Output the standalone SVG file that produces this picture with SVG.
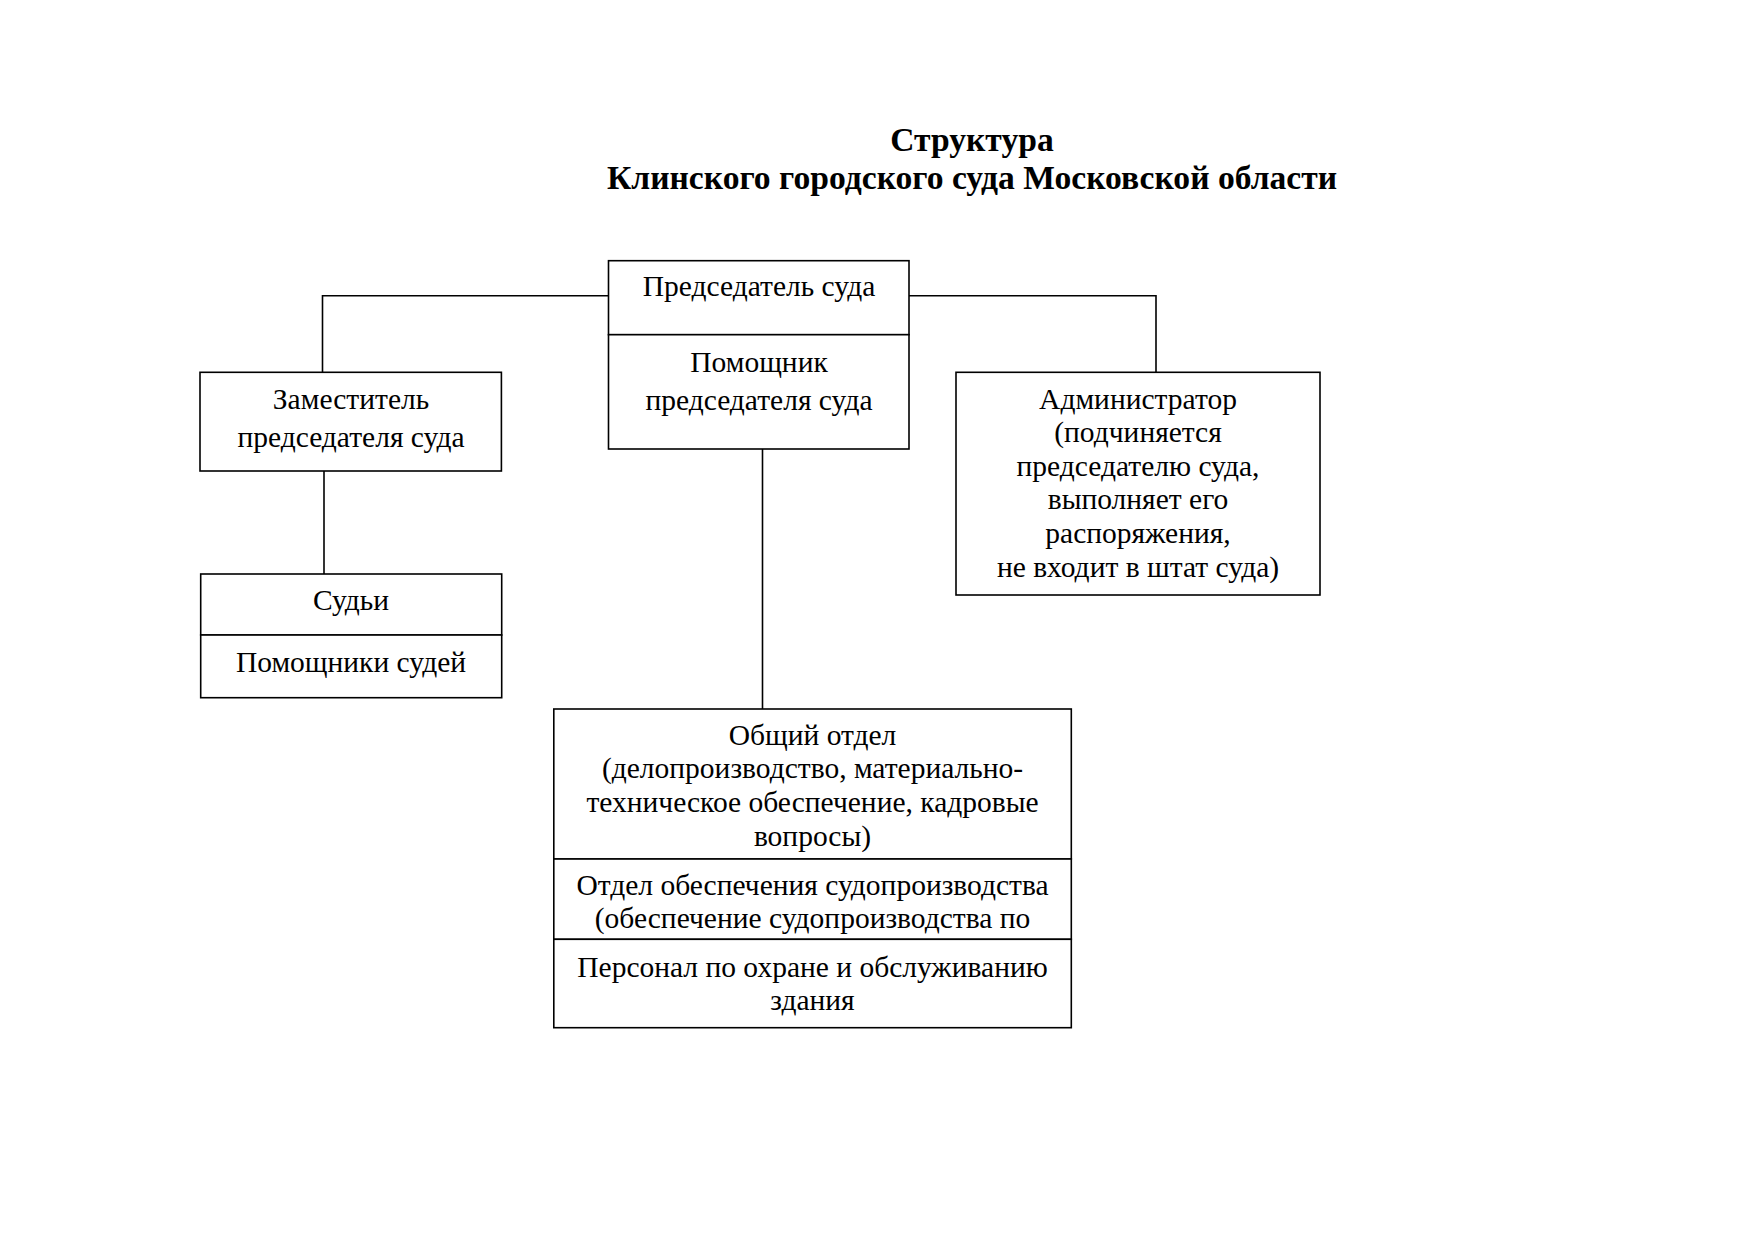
<svg xmlns="http://www.w3.org/2000/svg" width="1755" height="1241" viewBox="0 0 1755 1241">
<style>
.box{fill:#fff;stroke:#000;stroke-width:1.6}
.ln{fill:none;stroke:#000;stroke-width:1.6}
text{font-family:"Liberation Serif","Times New Roman",serif;font-size:29.5px;fill:#000;text-anchor:middle}
.title{font-weight:bold;font-size:33.6px}
</style>
<rect width="1755" height="1241" fill="#fff"/>
<g id="title">
<text class="title" x="972" y="150.5">Структура</text>
<text class="title" x="972" y="188.5">Клинского городского суда Московской области</text>
</g>
<g id="connectors">
<polyline class="ln" points="608.5,295.7 322.5,295.7 322.5,372.3"/>
<polyline class="ln" points="909,295.7 1156,295.7 1156,372.3"/>
<line class="ln" x1="324" y1="471" x2="324" y2="574"/>
<line class="ln" x1="762.5" y1="449" x2="762.5" y2="709"/>
</g>
<g id="chairman">
<rect class="box" x="608.5" y="260.7" width="300.5" height="74"/>
<text x="759" y="295.5">Председатель суда</text>
</g>
<g id="assistant-chairman">
<rect class="box" x="608.5" y="334.7" width="300.5" height="114.3"/>
<text x="759" y="371.5">Помощник</text>
<text x="759" y="409.5">председателя суда</text>
</g>
<g id="deputy">
<rect class="box" x="200" y="372.3" width="301.4" height="98.7"/>
<text x="351" y="408.5">Заместитель</text>
<text x="351" y="446.5">председателя суда</text>
</g>
<g id="administrator">
<rect class="box" x="956" y="372.3" width="364" height="222.7"/>
<text x="1138" y="408.5">Администратор</text>
<text x="1138" y="442.1">(подчиняется</text>
<text x="1138" y="475.7">председателю суда,</text>
<text x="1138" y="509.3">выполняет его</text>
<text x="1138" y="542.9">распоряжения,</text>
<text x="1138" y="576.5">не входит в штат суда)</text>
</g>
<g id="judges">
<rect class="box" x="200.7" y="574" width="301" height="61"/>
<text x="351" y="609.5">Судьи</text>
</g>
<g id="judges-assistants">
<rect class="box" x="200.7" y="635" width="301" height="62.7"/>
<text x="351" y="671.5">Помощники судей</text>
</g>
<g id="general-dept">
<rect class="box" x="553.8" y="709" width="517.5" height="150"/>
<text x="812.5" y="744.8">Общий отдел</text>
<text x="812.5" y="778.4">(делопроизводство, материально-</text>
<text x="812.5" y="812">техническое обеспечение, кадровые</text>
<text x="812.5" y="845.6">вопросы)</text>
</g>
<g id="court-support-dept">
<rect class="box" x="553.8" y="859" width="517.5" height="80.3"/>
<text x="812.5" y="894.8">Отдел обеспечения судопроизводства</text>
<text x="812.5" y="928.4">(обеспечение судопроизводства по</text>
</g>
<g id="maintenance">
<rect class="box" x="553.8" y="939.3" width="517.5" height="88.4"/>
<text x="812.5" y="976.5">Персонал по охране и обслуживанию</text>
<text x="812.5" y="1010">здания</text>
</g>
</svg>
